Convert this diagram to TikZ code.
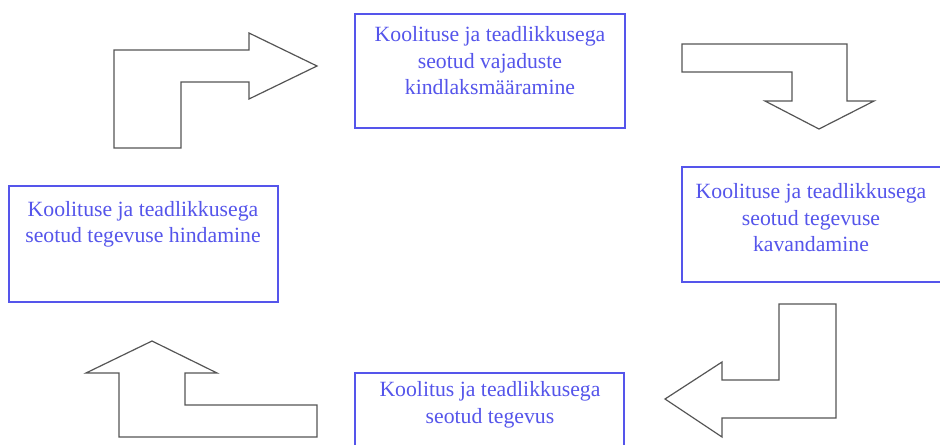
\documentclass[tikz,border=0pt]{standalone}
\usepackage{fontspec}
\setmainfont{Liberation Serif}
\usetikzlibrary{positioning}

\definecolor{stageblue}{RGB}{85,85,235}
\definecolor{arrowgray}{RGB}{85,85,85}

\tikzset{
  stagebox/.style={draw=stageblue, line width=1.2pt, fill=white, inner sep=0pt},
  stagetext/.style={text=stageblue, align=center, font=\fontsize{16.3}{20}\selectfont, inner sep=0pt},
  bentarrow/.style={draw=arrowgray, line width=0.9pt, line join=miter, fill=white}
}

\begin{document}
\begin{tikzpicture}[x=0.75pt,y=0.75pt,yscale=-1,xscale=1]
  \clip (0,0) rectangle (940,444);
  \fill[white] (0,0) rectangle (940,444);

  % Stage boxes
  \draw[stagebox] (355,14) rectangle (625,128);
  \coordinate (needs) at (490,14);
  \node[stagetext, anchor=north, below=9pt of needs] (needstext) {Koolituse ja teadlikkusega\\seotud vajaduste\\kindlaksmääramine};

  \draw[stagebox] (682,167) rectangle (945,282);
  \coordinate (plan) at (811,167);
  \node[stagetext, anchor=north, below=12pt of plan] (plantext) {Koolituse ja teadlikkusega\\seotud tegevuse\\kavandamine};

  \draw[stagebox] (355,373) rectangle (624,470);
  \coordinate (act) at (490,373);
  \node[stagetext, anchor=north, below=6pt of act] (acttext) {Koolitus ja teadlikkusega\\seotud tegevus};

  \draw[stagebox] (9,186) rectangle (278,302);
  \coordinate (eval) at (143,186);
  \node[stagetext, anchor=north, below=11pt of eval] (evaltext) {Koolituse ja teadlikkusega\\seotud tegevuse hindamine};

  % Bent block arrows
  \draw[bentarrow] (114,148) -- (114,50) -- (249,50) -- (249,33) -- (317,66) -- (249,99) -- (249,82) -- (181,82) -- (181,148) -- cycle;
  \draw[bentarrow] (682,44) -- (847,44) -- (847,101) -- (874,101) -- (819,129) -- (765,101) -- (792,101) -- (792,72) -- (682,72) -- cycle;
  \draw[bentarrow] (779,304) -- (836,304) -- (836,418) -- (722,418) -- (722,437) -- (665,399) -- (722,362) -- (722,380) -- (779,380) -- cycle;
  \draw[bentarrow] (152,341) -- (217,373) -- (185,373) -- (185,405) -- (317,405) -- (317,437) -- (119,437) -- (119,373) -- (86,373) -- cycle;

\end{tikzpicture}
\end{document}
